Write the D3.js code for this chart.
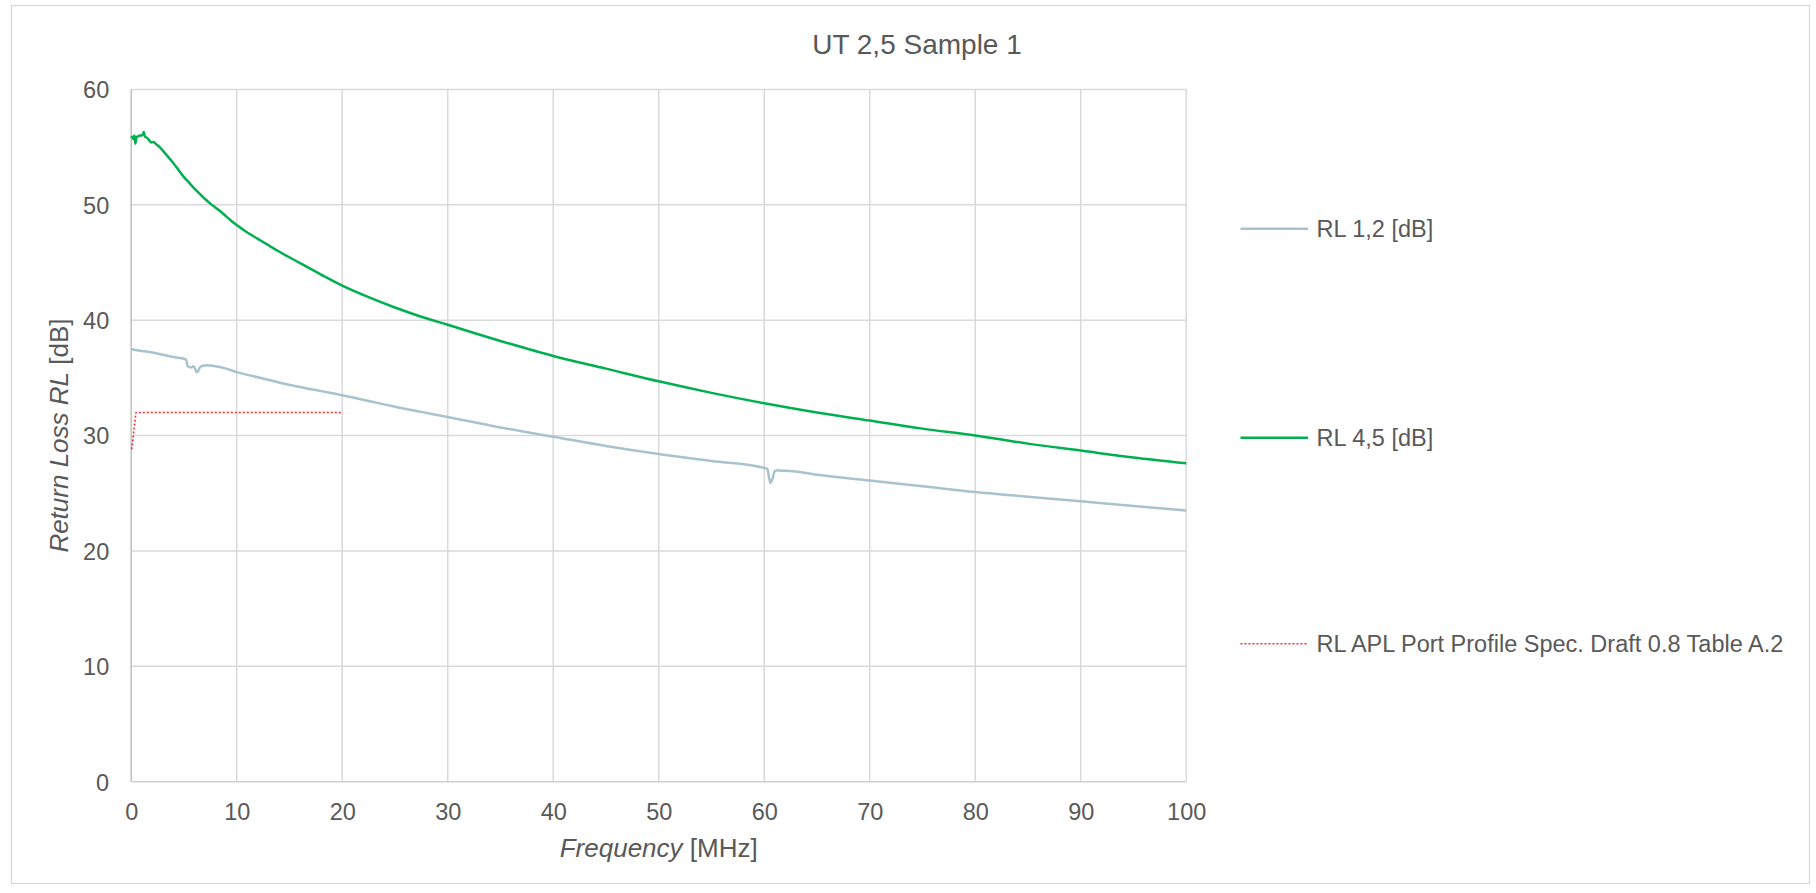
<!DOCTYPE html>
<html>
<head>
<meta charset="utf-8">
<script src="https://cdn.jsdelivr.net/npm/d3@7"></script>
<style>
  html, body { margin: 0; padding: 0; background: #ffffff; }
  svg { display: block; font-family: "Liberation Sans", Arial, sans-serif; }
</style>
</head>
<body>
<svg id="chart" width="1816" height="893"></svg>
<script>
// ---------- DATA ----------
const chartTitle = "UT 2,5 Sample 1";
const xTicks = [0, 10, 20, 30, 40, 50, 60, 70, 80, 90, 100];
const yTicks = [0, 10, 20, 30, 40, 50, 60];

// RL 1,2 [dB]
const freq12 = [0, 0.5, 1.3, 2, 3, 4, 5, 5.2, 5.35, 5.5, 5.7, 5.9, 6.05, 6.2, 6.3, 6.5, 6.8, 7.2, 8, 9, 10, 12, 14, 16, 18, 20, 22.5, 25, 27.5, 30, 35, 40, 45, 50, 55, 60, 60.3, 60.45, 60.6, 60.8, 61.0, 61.3, 61.6, 62, 65, 70, 75, 80, 85, 90, 95, 100];
const rl12   = [37.5, 37.4, 37.3, 37.2, 37.0, 36.8, 36.65, 36.6, 36.0, 35.95, 35.9, 36.0, 35.8, 35.5, 35.5, 35.9, 36.05, 36.1, 36.0, 35.8, 35.5, 35.05, 34.6, 34.2, 33.85, 33.5, 33.0, 32.5, 32.05, 31.6, 30.7, 29.9, 29.1, 28.4, 27.8, 27.2, 27.1, 26.4, 25.9, 26.3, 26.9, 27.0, 26.95, 26.95, 26.6, 26.1, 25.6, 25.1, 24.7, 24.3, 23.9, 23.5];

// RL 4,5 [dB]
const freq45 = [0, 0.1, 0.2, 0.3, 0.4, 0.5, 0.6, 0.8, 1.0, 1.1, 1.2, 1.3, 1.5, 1.7, 1.9, 2.1, 2.3, 2.7, 3.0, 3.5, 4, 4.5, 5, 5.5, 6, 6.5, 7, 7.5, 8, 8.5, 9, 9.5, 10, 11, 12, 13, 14, 16, 18, 20, 22.5, 25, 27.5, 30, 35, 40, 45, 50, 55, 60, 65, 70, 75, 80, 85, 90, 95, 100];
const rl45   = [55.8, 55.9, 55.7, 56.0, 55.3, 55.9, 55.9, 56.0, 56.0, 56.1, 56.3, 55.9, 55.8, 55.6, 55.4, 55.45, 55.3, 55.0, 54.7, 54.15, 53.6, 53.0, 52.4, 51.9, 51.4, 50.95, 50.5, 50.1, 49.75, 49.4, 49.0, 48.6, 48.25, 47.6, 47.05, 46.5, 45.95, 44.95, 43.95, 43.0, 42.0, 41.1, 40.3, 39.6, 38.2, 36.9, 35.8, 34.7, 33.7, 32.8, 32.0, 31.3, 30.6, 30.0, 29.3, 28.7, 28.1, 27.6];

// RL APL Port Profile Spec. Draft 0.8 Table A.2
const freqSpec = [0.05, 0.45, 20];
const rlSpec   = [28.8, 32, 32];

const seriesNames = ["RL 1,2 [dB]", "RL 4,5 [dB]", "RL APL Port Profile Spec. Draft 0.8 Table A.2"];

// ---------- LAYOUT ----------
const svg = d3.select("#chart");
const plot = { left: 131.2, right: 1186.2, top: 89.4, bottom: 781.7 };
const textColor = "#595959";
const tickFont = 23.5;

const x = d3.scaleLinear().domain([0, 100]).range([plot.left, plot.right]);
const y = d3.scaleLinear().domain([0, 60]).range([plot.bottom, plot.top]);

// chart area border
svg.append("rect")
  .attr("x", 11.5).attr("y", 5.5).attr("width", 1798).attr("height", 878)
  .attr("fill", "#ffffff").attr("stroke", "#D9D9D9").attr("stroke-width", 1.3);

// gridlines
const grid = svg.append("g");
grid.selectAll("line.v").data(xTicks.filter(d => d > 0)).enter().append("line")
  .attr("x1", d => x(d)).attr("x2", d => x(d))
  .attr("y1", plot.top).attr("y2", plot.bottom)
  .attr("stroke", "#D9D9D9").attr("stroke-width", 1.5);
grid.selectAll("line.h").data(yTicks.filter(d => d > 0)).enter().append("line")
  .attr("x1", plot.left).attr("x2", plot.right)
  .attr("y1", d => y(d)).attr("y2", d => y(d))
  .attr("stroke", "#D9D9D9").attr("stroke-width", 1.5);

// axes via d3 axis generators (labels), then axis lines
const xAxis = d3.axisBottom(x).tickValues(xTicks).tickSize(0).tickPadding(0).tickFormat(d3.format("d"));
const gx = svg.append("g").attr("transform", `translate(0,${plot.bottom})`).call(xAxis);
gx.select(".domain").remove();
gx.selectAll("text").attr("dy", null).attr("y", 38)
  .attr("font-size", tickFont).attr("font-family", "Liberation Sans, Arial, sans-serif").attr("fill", textColor);

const yAxis = d3.axisLeft(y).tickValues(yTicks).tickSize(0).tickPadding(0).tickFormat(d3.format("d"));
const gy = svg.append("g").attr("transform", `translate(${plot.left},0)`).call(yAxis);
gy.select(".domain").remove();
gy.selectAll("text").attr("dy", null).attr("x", -22).attr("y", 8.4)
  .attr("font-size", tickFont).attr("font-family", "Liberation Sans, Arial, sans-serif").attr("fill", textColor);

svg.append("line").attr("x1", plot.left).attr("x2", plot.left).attr("y1", plot.top).attr("y2", plot.bottom)
  .attr("stroke", "#BFBFBF").attr("stroke-width", 1.5);
svg.append("line").attr("x1", plot.left).attr("x2", plot.right).attr("y1", plot.bottom).attr("y2", plot.bottom)
  .attr("stroke", "#D0D0D0").attr("stroke-width", 1.5);

// series lines
const smoothLine = d3.line().x(d => x(d[0])).y(d => y(d[1])).curve(d3.curveMonotoneX);
const straightLine = d3.line().x(d => x(d[0])).y(d => y(d[1]));
const zip = (a, b) => a.map((v, i) => [v, b[i]]);

const series = [
  { name: seriesNames[0], data: zip(freq12, rl12), color: "#A8C3CD", width: 2.5, dash: null, gen: smoothLine },
  { name: seriesNames[1], data: zip(freq45, rl45), color: "#00B050", width: 2.5, dash: null, gen: smoothLine },
  { name: seriesNames[2], data: zip(freqSpec, rlSpec), color: "#FF2A2A", width: 1.6, dash: "2,2", gen: straightLine }
];

const gLines = svg.append("g");
series.forEach(s => {
  gLines.append("path").datum(s.data)
    .attr("d", s.gen).attr("fill", "none")
    .attr("stroke", s.color).attr("stroke-width", s.width)
    .attr("stroke-linejoin", "round")
    .attr("stroke-dasharray", s.dash);
});

// title
svg.append("text").attr("x", 917).attr("y", 53.5).attr("text-anchor", "middle")
  .attr("font-size", 28).attr("fill", textColor).text(chartTitle);

// x axis title
const xt = svg.append("text").attr("x", (plot.left + plot.right) / 2).attr("y", 856.7)
  .attr("text-anchor", "middle").attr("font-size", 26).attr("fill", textColor);
xt.append("tspan").attr("font-style", "italic").text("Frequency");
xt.append("tspan").text(" [MHz]");

// y axis title
const yt = svg.append("text")
  .attr("transform", `translate(68,${(plot.top + plot.bottom) / 2}) rotate(-90)`)
  .attr("text-anchor", "middle").attr("font-size", 26).attr("fill", textColor);
yt.append("tspan").attr("font-style", "italic").text("Return Loss RL");
yt.append("tspan").text(" [dB]");

// legend
const legendY = [228.8, 437.8, 643.7];
const gLeg = svg.append("g");
series.forEach((s, i) => {
  gLeg.append("line").attr("x1", 1240.5).attr("x2", 1308)
    .attr("y1", legendY[i]).attr("y2", legendY[i])
    .attr("stroke", s.color).attr("stroke-width", s.dash ? 1.6 : 2.5)
    .attr("stroke-dasharray", s.dash);
  gLeg.append("text").attr("x", 1316.5).attr("y", legendY[i] + 8.4)
    .attr("font-size", tickFont).attr("fill", textColor).text(s.name);
});
</script>
</body>
</html>
